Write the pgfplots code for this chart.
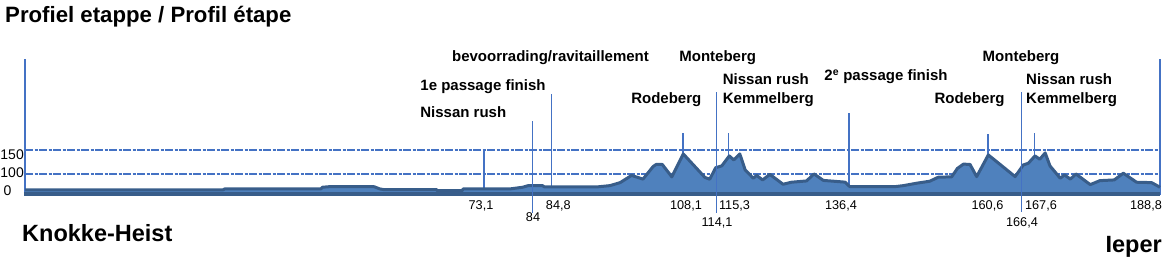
\documentclass[border=0pt]{standalone}
\usepackage{fontspec}
\setmainfont{Liberation Sans}
\usepackage{pgfplots}
\pgfplotsset{compat=1.18}
\definecolor{fillblue}{RGB}{79,129,189}
\definecolor{darkblue}{RGB}{56,93,138}
\definecolor{lineblue}{RGB}{68,114,196}
\begin{document}
\begin{tikzpicture}
\begin{axis}[
  at={(0pt,0pt)}, anchor=south west,
  scale only axis, width=1135pt, height=137.28pt,
  xmin=0, xmax=188.8, ymin=54, ymax=340,
  axis line style={draw=none},
  xtick=\empty, ytick={100,150}, yticklabels={},
  tick style={draw=none},
  ymajorgrids,
  major grid style={lineblue, line width=1.3pt, dash pattern=on 8pt off 1.5pt on 3pt off 1.5pt},
  clip=false,
]
% axis frame lines
\addplot[lineblue, line width=1.6pt] coordinates {(0,56) (0,339)};
\addplot[lineblue, line width=1.6pt] coordinates {(188.8,56) (188.8,339)};
% marker lines behind the profile
\addplot[lineblue, line width=1.6pt] coordinates {(76.40,56) (76.40,150)};
\addplot[lineblue, line width=1.6pt] coordinates {(87.61,56) (87.61,266.7)};
\addplot[lineblue, line width=1.6pt] coordinates {(109.50,56) (109.50,185.4)};
\addplot[lineblue, line width=1.6pt] coordinates {(116.99,56) (116.99,185.4)};
\addplot[lineblue, line width=1.6pt] coordinates {(137.07,56) (137.07,227)};
\addplot[lineblue, line width=1.6pt] coordinates {(160.14,56) (160.14,183)};
\addplot[lineblue, line width=1.6pt] coordinates {(167.89,56) (167.89,185.4)};
% profile fill
\addplot[fill=fillblue, draw=none] coordinates {
(0,56) (0,67) (33.0,67) (33.2,68.8) (49.2,68.8) (49.5,72.3) (50.7,73.5) (58.0,73.5)
(58.3,72.3) (59.0,68.8) (59.6,67.5) (68.4,67.5) (68.6,65.2) (72.7,65.2) (72.9,68.8)
(80.7,68.8) (82.8,72.3) (83.7,75.6) (86.1,75.6) (86.4,72.9) (95.1,72.9) (97.3,75.6)
(99.0,81.9) (100.9,96.9) (102.8,89.2) (104.5,115.6) (105.0,119.8) (106.0,119.8)
(107.6,93.8) (109.5,141.7) (113.1,92.7) (113.9,89.0) (114.9,113.1) (115.9,116.7)
(117.15,137.5) (117.9,129.2) (118.9,141.7) (119.8,108.3) (121.15,91.0) (121.7,96.9)
(122.7,87.5) (123.9,99.0) (126.1,78.5) (127.5,82.7) (130.0,85.4) (131.25,100)
(132.8,86.5) (136.4,82.9) (137.2,73.5) (144.7,73.5) (146.1,75.6) (148.3,80.6)
(150.5,84.8) (151.9,93.1) (154.15,94) (155.1,111.5) (156.1,120.4) (157.2,119.8)
(158.3,94.4) (160.24,139.6) (164.7,94.4) (166.06,118.75) (166.9,122.3) (168.0,137.5)
(168.8,130.6) (169.7,143.75) (170.5,116.7) (172.2,91.0) (172.9,97.9) (173.9,89.2)
(174.8,100) (177.2,77.7) (178.8,86) (181.2,87.5) (182.7,101.5) (184.9,82.7)
(187.4,81.9) (188.5,74.4) (188.8,72) (188.8,56)};
% profile outline
\addplot[darkblue, line width=3pt, line join=round] coordinates {
(0,67) (33.0,67) (33.2,68.8) (49.2,68.8) (49.5,72.3) (50.7,73.5) (58.0,73.5)
(58.3,72.3) (59.0,68.8) (59.6,67.5) (68.4,67.5) (68.6,65.2) (72.7,65.2) (72.9,68.8)
(80.7,68.8) (82.8,72.3) (83.7,75.6) (86.1,75.6) (86.4,72.9) (95.1,72.9) (97.3,75.6)
(99.0,81.9) (100.9,96.9) (102.8,89.2) (104.5,115.6) (105.0,119.8) (106.0,119.8)
(107.6,93.8) (109.5,141.7) (113.1,92.7) (113.9,89.0) (114.9,113.1) (115.9,116.7)
(117.15,137.5) (117.9,129.2) (118.9,141.7) (119.8,108.3) (121.15,91.0) (121.7,96.9)
(122.7,87.5) (123.9,99.0) (126.1,78.5) (127.5,82.7) (130.0,85.4) (131.25,100)
(132.8,86.5) (136.4,82.9) (137.2,73.5) (144.7,73.5) (146.1,75.6) (148.3,80.6)
(150.5,84.8) (151.9,93.1) (154.15,94) (155.1,111.5) (156.1,120.4) (157.2,119.8)
(158.3,94.4) (160.24,139.6) (164.7,94.4) (166.06,118.75) (166.9,122.3) (168.0,137.5)
(168.8,130.6) (169.7,143.75) (170.5,116.7) (172.2,91.0) (172.9,97.9) (173.9,89.2)
(174.8,100) (177.2,77.7) (178.8,86) (181.2,87.5) (182.7,101.5) (184.9,82.7)
(187.4,81.9) (188.5,74.4) (188.8,72)};
% bottom band
\addplot[darkblue, line width=3.8pt] coordinates {(-0.2,58.3) (188.8,58.3)};
% marker lines drawn over the profile
\addplot[lineblue, line width=1.6pt] coordinates {(84.45,18.75) (84.45,210.4)};
\addplot[lineblue, line width=1.6pt] coordinates {(115.00,18.75) (115.00,270.8)};
\addplot[lineblue, line width=1.6pt] coordinates {(165.73,20.8) (165.73,270.8)};
\end{axis}
\begin{scope}[shift={(-25pt,196pt)}, x=1pt, y=-1pt]
  \tikzset{lab/.style={inner sep=0pt, font=\fontsize{15}{18}\selectfont\bfseries},
           tk/.style={inner sep=0pt, font=\fontsize{12.7}{15}\selectfont}}
  % title
  \node[anchor=base west, inner sep=0pt, font=\fontsize{22.2}{26}\selectfont\bfseries] at (5,22) {Profiel etappe / Profil étape};
  % place names
  \node[anchor=base west, inner sep=0pt, font=\fontsize{23.5}{28}\selectfont\bfseries] at (22,241) {Knokke-Heist};
  \node[anchor=base east, inner sep=0pt, font=\fontsize{23.5}{28}\selectfont\bfseries] at (1162,252) {Ieper};
  % y labels
  \node[anchor=base east, inner sep=0pt, font=\fontsize{14}{16}\selectfont] at (24,159) {150};
  \node[anchor=base east, inner sep=0pt, font=\fontsize{14}{16}\selectfont] at (24,177) {100};
  \node[anchor=base, inner sep=0pt, font=\fontsize{14}{16}\selectfont] at (7.5,195) {0};
  % annotations
  \node[lab, anchor=base] at (550.5,61.5) {bevoorrading/ravitaillement};
  \node[lab, anchor=base] at (483,90.5) {1e passage finish};
  \node[lab, anchor=base] at (463.3,117) {Nissan rush};
  \node[lab, anchor=base] at (666.3,103.5) {Rodeberg};
  \node[lab, anchor=base] at (717.7,61.5) {Monteberg};
  \node[lab, anchor=base west] at (722.7,84.5) {Nissan rush};
  \node[lab, anchor=base west] at (722.7,103) {Kemmelberg};
  \node[lab, anchor=base] at (886,80.4) {2\textsuperscript{e} passage finish};
  \node[lab, anchor=base] at (969.5,103.5) {Rodeberg};
  \node[lab, anchor=base] at (1021,61.5) {Monteberg};
  \node[lab, anchor=base west] at (1026,84.5) {Nissan rush};
  \node[lab, anchor=base west] at (1026,103) {Kemmelberg};
  % km labels
  \node[tk, anchor=base] at (481,209.6) {73,1};
  \node[tk, anchor=base] at (533,221.3) {84};
  \node[tk, anchor=base] at (558.3,209.6) {84,8};
  \node[tk, anchor=base] at (686,209.6) {108,1};
  \node[tk, anchor=base] at (717,226.3) {114,1};
  \node[tk, anchor=base] at (734.5,209.6) {115,3};
  \node[tk, anchor=base] at (841,209.6) {136,4};
  \node[tk, anchor=base] at (987.5,209.6) {160,6};
  \node[tk, anchor=base] at (1022,226.3) {166,4};
  \node[tk, anchor=base] at (1041,209.6) {167,6};
  \node[tk, anchor=base] at (1146,209.6) {188,8};
  \pgfresetboundingbox
  \path (0,0) rectangle (1167,274);
\end{scope}
\end{tikzpicture}
\end{document}
